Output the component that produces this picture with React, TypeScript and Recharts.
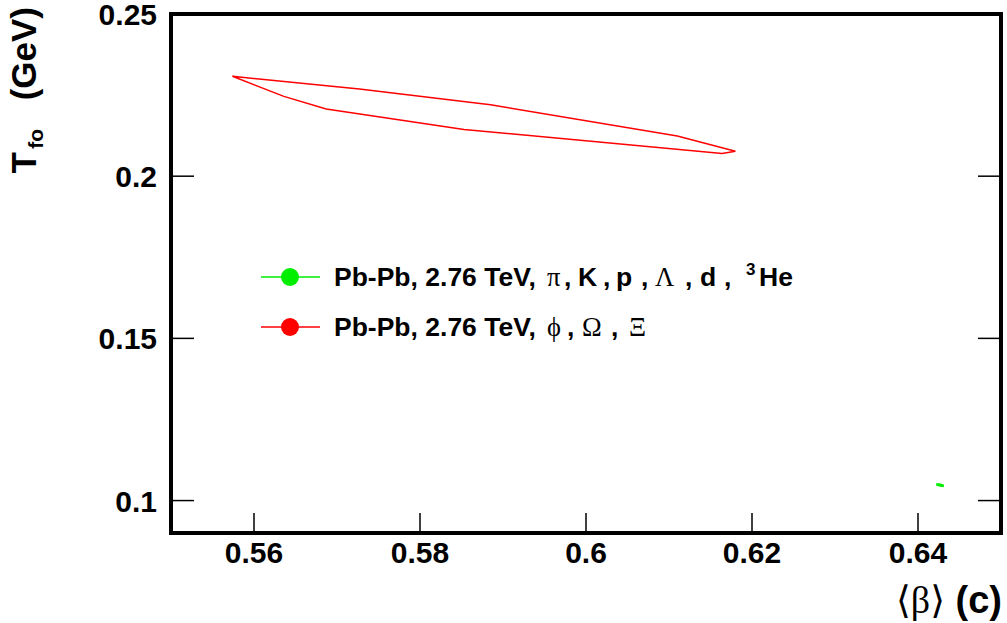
import React from "react";
import { ScatterChart, Scatter, XAxis, YAxis, ReferenceArea } from "recharts";

// <beta> and T_fo contour points (closed loops)
const redBeta = [0.5574, 0.5727, 0.5885, 0.611, 0.618, 0.6164, 0.5853, 0.5687, 0.5636, 0.5574];
const redT = [0.2308, 0.2269, 0.222, 0.2124, 0.2077, 0.207, 0.2144, 0.2207, 0.2246, 0.2308];
const greenBeta = [0.6422, 0.6427, 0.6431, 0.6427, 0.6422];
const greenT = [0.105, 0.1049, 0.1045, 0.1046, 0.105];

const xTicks = [0.56, 0.58, 0.6, 0.62, 0.64];
const yTicks = [0.1, 0.15, 0.2, 0.25];

const redData = redBeta.map((b, i) => ({ beta: b, t: redT[i] }));
const greenData = greenBeta.map((b, i) => ({ beta: b, t: greenT[i] }));

const SANS = "'Liberation Sans', Arial, Helvetica, sans-serif";
const SERIF = "'Liberation Serif', 'Times New Roman', 'DejaVu Serif', serif";

const W = 1007;
const H = 623;

const fmt = (v: number) => String(Number(v.toFixed(2)));

const XTick = (props: any) => {
  const { x, y, payload } = props;
  return (
    <g>
      <line x1={x} x2={x} y1={y} y2={y - 20} stroke="#000" strokeWidth={1.5} />
      <text x={x} y={y + 30} textAnchor="middle" fontFamily={SANS} fontWeight="bold" fontSize={30} fill="#000">
        {fmt(payload.value)}
      </text>
    </g>
  );
};

const YTickLeft = (props: any) => {
  const { x, y, payload } = props;
  return (
    <g>
      <line x1={x} x2={x + 23} y1={y} y2={y} stroke="#000" strokeWidth={1.5} />
      <text x={x - 14} y={y + 11} textAnchor="end" fontFamily={SANS} fontWeight="bold" fontSize={30} fill="#000">
        {fmt(payload.value)}
      </text>
    </g>
  );
};

const YTickRight = (props: any) => {
  const { x, y } = props;
  return <line x1={x} x2={x - 23} y1={y} y2={y} stroke="#000" strokeWidth={1.5} />;
};

const noDot = () => <g />;

const B = { fontFamily: SANS, fontWeight: "bold" as const };
const G = { fontFamily: SERIF, fontWeight: "normal" as const };

export default function App() {
  return (
    <div style={{ position: "absolute", left: 0, top: 0, width: W, height: H, background: "#fff" }}>
      <ScatterChart width={W} height={H} margin={{ top: 14, right: 0, bottom: 0, left: 0 }}>
        <XAxis
          type="number"
          dataKey="beta"
          domain={[0.55, 0.65]}
          ticks={xTicks}
          allowDataOverflow
          height={90}
          axisLine={false}
          tickLine={false}
          tickSize={0}
          tickMargin={0}
          tick={<XTick />}
          interval={0}
        />
        <YAxis
          type="number"
          dataKey="t"
          domain={[0.09, 0.25]}
          ticks={yTicks}
          allowDataOverflow
          width={171}
          axisLine={false}
          tickLine={false}
          tickSize={0}
          tickMargin={0}
          tick={<YTickLeft />}
          interval={0}
        />
        <YAxis
          yAxisId="right"
          orientation="right"
          type="number"
          dataKey="t"
          domain={[0.09, 0.25]}
          ticks={yTicks}
          allowDataOverflow
          width={6}
          axisLine={false}
          tickLine={false}
          tickSize={0}
          tickMargin={0}
          tick={<YTickRight />}
          interval={0}
        />
        <Scatter
          data={redData}
          line={{ stroke: "#ff0000", strokeWidth: 1.5 }}
          shape={noDot}
          isAnimationActive={false}
        />
        <Scatter
          data={greenData}
          line={{ stroke: "#00ee00", strokeWidth: 2.5 }}
          shape={noDot}
          isAnimationActive={false}
        />
        <ReferenceArea x1={0.55} x2={0.65} y1={0.09} y2={0.25} fill="none" stroke="#000" strokeWidth={4} ifOverflow="visible" />
      </ScatterChart>
      <svg width={W} height={H} style={{ position: "absolute", left: 0, top: 0, pointerEvents: "none" }}>
        {/* legend */}
        <line x1={261} x2={320} y1={277} y2={277} stroke="#00ee00" strokeWidth={1.5} />
        <circle cx={290} cy={277} r={9} fill="#00ee00" />
        <text y={286} fontSize={26.5} fill="#000">
          <tspan x={334} {...B}>Pb-Pb, 2.76 TeV,</tspan>
          <tspan x={547} {...G}>{"\u03C0"}</tspan>
          <tspan x={564} {...B}>,</tspan>
          <tspan x={578} {...B}>K</tspan>
          <tspan x={603} {...B}>,</tspan>
          <tspan x={616} {...B}>p</tspan>
          <tspan x={641} {...B}>,</tspan>
          <tspan x={655} {...G}>{"\u039B"}</tspan>
          <tspan x={685} {...B}>,</tspan>
          <tspan x={700} {...B}>d</tspan>
          <tspan x={724} {...B}>,</tspan>
          <tspan x={746} dy={-11} fontSize={17} {...B}>3</tspan>
          <tspan x={759} dy={11} {...B}>He</tspan>
        </text>
        <line x1={261} x2={320} y1={327} y2={327} stroke="#ff0000" strokeWidth={1.5} />
        <circle cx={290} cy={327} r={9} fill="#ff0000" />
        <text y={336} fontSize={26.5} fill="#000">
          <tspan x={334} {...B}>Pb-Pb, 2.76 TeV,</tspan>
          <tspan x={547} {...G}>{"\u03D5"}</tspan>
          <tspan x={567} {...B}>,</tspan>
          <tspan x={582} {...G}>{"\u03A9"}</tspan>
          <tspan x={611} {...B}>,</tspan>
          <tspan x={629} {...G}>{"\u039E"}</tspan>
        </text>
        {/* x title */}
        <text x={1002} y={613} textAnchor="end" fontFamily={SANS} fontWeight="bold" fontSize={38} fill="#000">
          <tspan fontFamily={SERIF} fontWeight="normal">{"\u27E8\u03B2\u27E9"}</tspan>
          <tspan> (c)</tspan>
        </text>
        {/* y title: T_fo (GeV), rotated */}
        <text x={36} y={7} transform="rotate(-90, 36, 7)" textAnchor="end" {...B} fontSize={35} fill="#000">
          (GeV)
        </text>
        <text x={43} y={129} transform="rotate(-90, 43, 129)" textAnchor="end" {...B} fontSize={21} fill="#000">
          fo
        </text>
        <text x={36} y={152} transform="rotate(-90, 36, 152)" textAnchor="end" {...B} fontSize={35} fill="#000">
          T
        </text>
      </svg>
    </div>
  );
}
